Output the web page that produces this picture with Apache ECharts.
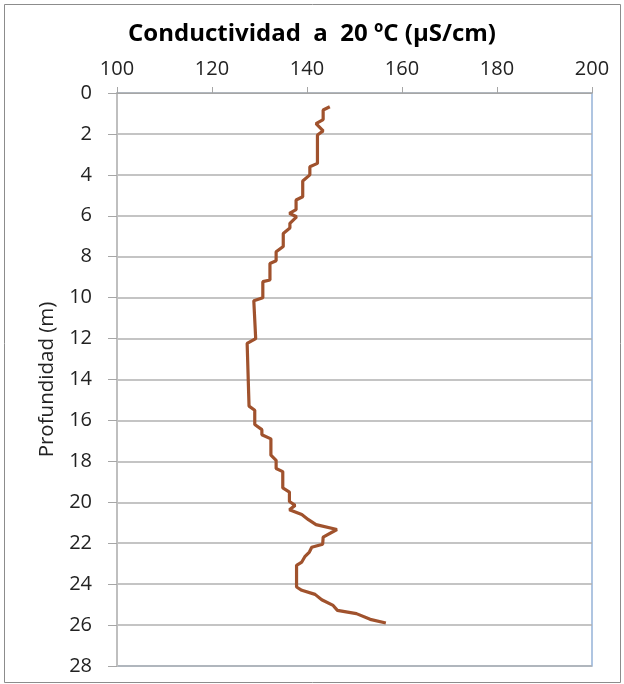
<!DOCTYPE html>
<html>
<head>
<meta charset="utf-8">
<script src="https://cdn.jsdelivr.net/npm/echarts@6/dist/echarts.min.js"></script>
<style>
html,body{margin:0;padding:0;background:#fff;}
#chart{width:624px;height:684px;}
</style>
</head>
<body>
<div id="chart"></div>
<script>
// Depth (m) and conductivity at 20 ºC (µS/cm)
const depth = [0.67, 0.83, 1.3, 1.5, 1.85, 2.05, 3.44, 3.6, 4.0, 4.3, 5.07, 5.23, 5.7, 5.88, 6.05, 6.37, 6.6, 6.86, 7.5, 7.76, 8.2, 8.33, 9.14, 9.22, 10.0, 10.15, 12.0, 12.24, 15.3, 15.5, 16.2, 16.45, 16.7, 16.9, 17.7, 17.95, 18.35, 18.5, 19.3, 19.5, 19.96, 20.15, 20.36, 20.6, 20.85, 21.09, 21.33, 21.7, 22.05, 22.2, 22.43, 22.64, 22.92, 23.08, 24.14, 24.3, 24.5, 24.76, 25.04, 25.28, 25.44, 25.72, 25.9];
const conductivity = [144.8, 143.4, 143.4, 141.9, 143.4, 142.2, 142.2, 140.6, 140.6, 139.1, 139.1, 137.7, 137.7, 136.3, 137.8, 136.4, 136.4, 135.0, 135.0, 133.5, 133.5, 132.2, 132.2, 130.7, 130.7, 128.8, 129.2, 127.4, 127.8, 129.0, 129.0, 130.5, 130.5, 132.4, 132.4, 133.5, 133.5, 134.9, 134.9, 136.3, 136.3, 137.5, 136.3, 138.9, 140.3, 141.9, 146.3, 143.4, 143.3, 141.0, 140.5, 139.6, 138.9, 137.8, 137.8, 138.9, 141.7, 143.1, 145.5, 146.4, 150.4, 153.3, 156.6];
const xTicks = [100, 120, 140, 160, 180, 200];
const yTicks = [0, 2, 4, 6, 8, 10, 12, 14, 16, 18, 20, 22, 24, 26, 28];

const title = 'Conductividad  a  20 ºC (µS/cm)';
const yName = 'Profundidad (m)';
const FONT = '"Open Sans", sans-serif';

const seriesData = depth.map((d, i) => [conductivity[i], d]);

const chart = echarts.init(document.getElementById('chart'), null, {renderer: 'canvas'});
chart.setOption({
  animation: false,
  backgroundColor: '#fff',
  title: {
    text: title,
    left: 'center',
    top: 17,
    textStyle: {fontFamily: FONT, fontSize: 24, fontWeight: 'bold', color: '#000'}
  },
  graphic: [{
    type: 'rect',
    shape: {x: 4.5, y: 4.5, width: 616, height: 678},
    style: {fill: 'none', stroke: '#8c8c8c', lineWidth: 1},
    silent: true
  }],
  grid: {
    left: 117, right: 32, top: 93, bottom: 18,
    show: true, borderColor: '#95B3D7', borderWidth: 1.5, backgroundColor: 'transparent'
  },
  xAxis: {
    type: 'value',
    position: 'top',
    min: xTicks[0], max: xTicks[xTicks.length - 1], interval: 20,
    axisLine: {show: true, lineStyle: {color: '#a6a6a6', width: 1}},
    axisTick: {show: true, length: 6, lineStyle: {color: '#a6a6a6'}},
    axisLabel: {fontFamily: FONT, fontSize: 20, color: '#222', margin: 14},
    splitLine: {show: false}
  },
  yAxis: {
    type: 'value',
    inverse: true,
    min: yTicks[0], max: yTicks[yTicks.length - 1], interval: 2,
    name: yName,
    nameLocation: 'middle',
    nameGap: 59,
    nameTextStyle: {fontFamily: FONT, fontSize: 20.5, color: '#222'},
    axisLine: {show: true, lineStyle: {color: '#bfbfbf', width: 2}},
    axisTick: {show: true, length: 9, lineStyle: {color: '#a6a6a6'}},
    axisLabel: {fontFamily: FONT, fontSize: 20, color: '#222', margin: 25},
    splitLine: {show: true, lineStyle: {color: '#b0b0b0', width: 1.5}}
  },
  series: [{
    type: 'line',
    data: seriesData,
    showSymbol: false,
    symbol: 'none',
    lineStyle: {color: '#A0522D', width: 3.2},
    itemStyle: {color: '#A0522D'}
  }]
});
</script>
</body>
</html>
